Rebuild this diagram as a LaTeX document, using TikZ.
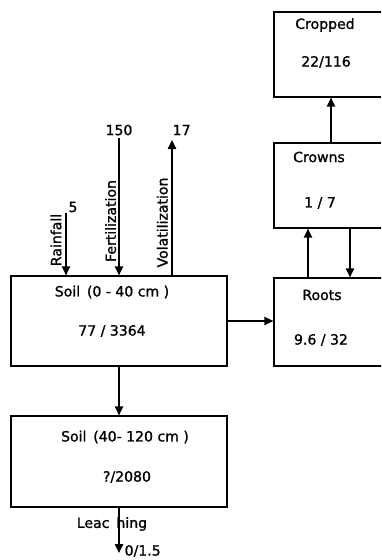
\documentclass[tikz,border=0pt]{standalone}
\usepackage{fontspec}
\newfontfamily\flowfont[FakeBold=1.2]{DejaVu Sans}
\usepackage{tikz}
\usetikzlibrary{arrows,arrows.meta,backgrounds}
\usetikzlibrary{calc}
\pgfdeclarelayer{edgelayer}
\pgfdeclarelayer{nodelayer}
\pgfsetlayers{background,edgelayer,nodelayer,main}
\tikzstyle{none}=[inner sep=0mm]
\tikzstyle{pool}=[draw=black,line width=1.1pt,shape=rectangle,inner sep=0mm]
\tikzstyle{flux}=[line width=1.2pt,-{Triangle[length=2.7mm,width=2.5mm]}]
\tikzstyle{every picture}=[font={\flowfont\fontsize{12}{14}\selectfont}]

\begin{document}
\begin{tikzpicture}
	\useasboundingbox (0, 0) rectangle (11.43, -16.8);
	\begin{pgfonlayer}{nodelayer}
		\begin{scope}
		\clip (0, 0) rectangle (11.43, -16.8);
		\node [style=pool, minimum width=6.48cm, minimum height=2.7cm] (soil) at (3.57, -9.63) {};
		\node [style=pool, minimum width=6.48cm, minimum height=2.73cm] (subsoil) at (3.57, -13.845) {};
		\node [style=pool, minimum width=3.78cm, minimum height=2.55cm] (cropped) at (10.11, -1.635) {};
		\node [style=pool, minimum width=3.78cm, minimum height=2.55cm] (crowns) at (10.11, -5.565) {};
		\node [style=pool, minimum width=3.78cm, minimum height=2.64cm] (roots) at (10.11, -9.66) {};
		\end{scope}
		\node [style=none] (soilname) at (3.36, -8.76) {Soil\, (0 - 40 cm )};
		\node [style=none] (soilval) at (3.36, -9.93) {77 / 3364};
		\node [style=none] (subsoilname) at (3.75, -13.11) {Soil\, (40- 120 cm )};
		\node [style=none] (subsoilval) at (3.81, -14.31) {?/2080};
		\node [style=none] (croppedname) at (9.75, -0.75) {Cropped};
		\node [style=none] (croppedval) at (9.78, -1.86) {22/116};
		\node [style=none] (crownsname) at (9.57, -4.71) {Crowns};
		\node [style=none] (crownsval) at (9.6, -6.09) {1 / 7};
		\node [style=none] (rootsname) at (9.66, -8.85) {Roots};
		\node [style=none] (rootsval) at (9.63, -10.2) {9.6 / 32};
		\node [style=none] (rain) at (1.98, -6.39) {};
		\node [style=none] (rainval) at (2.19, -6.21) {5};
		\node [style=none, rotate=90] (rainname) at (1.68, -7.2) {Rainfall};
		\node [style=none] (fert) at (3.57, -4.14) {};
		\node [style=none] (fertval) at (3.57, -3.9) {150};
		\node [style=none, rotate=90] (fertname) at (3.32, -6.63) {Fertilization};
		\node [style=none] (vol) at (5.16, -4.2) {};
		\node [style=none] (volval) at (5.45, -3.9) {17};
		\node [style=none, rotate=90] (volname) at (4.87, -6.675) {Volatilization};
		\node [style=none] (leach) at (3.57, -16.59) {};
		\node [style=none] (leachname) at (3.36, -15.72) {Leac\hspace{0.5em}hing};
		\node [style=none] (leachval) at (4.28, -16.53) {0/1.5};
		\node [style=none] (up1) at (9.93, 0) {};
		\node [style=none] (up2) at (9.24, 0) {};
		\node [style=none] (down2) at (10.5, 0) {};
	\end{pgfonlayer}
	\begin{pgfonlayer}{edgelayer}
		\draw[style=flux] (rain.center) to (rain.center |- soil.north);
		\draw[style=flux] (fert.center) to (fert.center |- soil.north);
		\draw[style=flux] (vol.center |- soil.north) to (vol.center);
		\draw[style=flux] (soil.south) to (subsoil.north);
		\draw[style=flux] (subsoil.south) to (leach.center);
		\draw[style=flux] (soil.east) to (roots.west |- soil.east);
		\draw[style=flux] (up2.center |- roots.north) to (up2.center |- crowns.south);
		\draw[style=flux] (down2.center |- crowns.south) to (down2.center |- roots.north);
		\draw[style=flux] (up1.center |- crowns.north) to (up1.center |- cropped.south);
	\end{pgfonlayer}
\end{tikzpicture}
\end{document}
